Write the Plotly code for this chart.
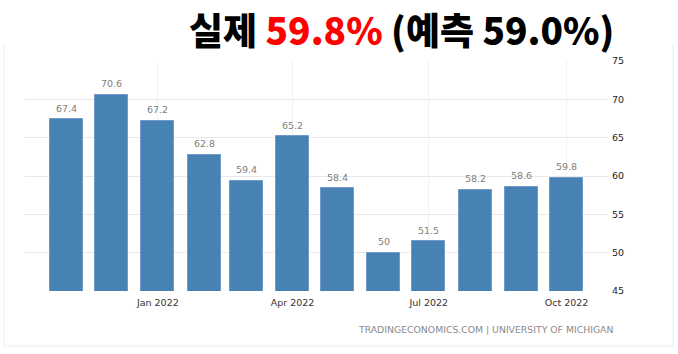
import plotly.graph_objects as go
import pandas as pd

months = ["2021-11-01", "2021-12-01", "2022-01-01", "2022-02-01", "2022-03-01", "2022-04-01",
          "2022-05-01", "2022-06-01", "2022-07-01", "2022-08-01", "2022-09-01", "2022-10-01"]
values = [67.4, 70.6, 67.2, 62.8, 59.4, 65.2, 58.4, 50, 51.5, 58.2, 58.6, 59.8]
value_labels = ["67.4", "70.6", "67.2", "62.8", "59.4", "65.2", "58.4", "50", "51.5", "58.2", "58.6", "59.8"]
x_ticks = ["2022-01-01", "2022-04-01", "2022-07-01", "2022-10-01"]
x_tick_labels = ["Jan 2022", "Apr 2022", "Jul 2022", "Oct 2022"]
y_ticks = [45, 50, 55, 60, 65, 70, 75]
title_html = '실제 <span style="color:#ff0000">59.8%</span> (예측 59.0%)'
source = "TRADINGECONOMICS.COM | UNIVERSITY OF MICHIGAN"

W, H = 678, 354
L, R, T, B = 25, 70, 61, 63
pw, ph = W - L - R, H - T - B

dates = pd.to_datetime(months)
day_ms = 86400000
x_start = dates[0] - pd.Timedelta(days=27.7)
x_end = dates[-1] + pd.Timedelta(days=27.7)

fig = go.Figure()
fig.add_trace(go.Bar(
    x=dates, y=values,
    width=22 * day_ms,
    marker=dict(color="#4682b4", line=dict(color="#6f9bc6", width=1)),
    hoverinfo="skip",
))

for d, v, t in zip(dates, values, value_labels):
    fig.add_annotation(x=d, y=v, text=t, showarrow=False, yanchor="middle", yshift=11,
                       font=dict(family="DejaVu Sans", size=9.5, color="#808080"))

def px_x(px):
    return (px - L) / pw

def px_y(py):
    return (H - B - py) / ph

fig.add_annotation(xref="paper", yref="paper", x=px_x(401), y=px_y(29), text=title_html,
                   showarrow=False, xanchor="center", yanchor="middle",
                   font=dict(family="Noto Sans CJK KR", size=37, color="#000000", weight=900))
fig.add_annotation(xref="paper", yref="paper", x=px_x(615), y=px_y(329), text=source,
                   showarrow=False, xanchor="right", yanchor="middle",
                   font=dict(family="DejaVu Sans", size=9.3, color="#8a8a8a"))

border = "#ececec"
for x0, y0, x1, y1 in [(4, 45, 4, 346), (673, 45, 673, 346), (4, 346, 673, 346)]:
    fig.add_shape(type="line", xref="paper", yref="paper",
                  x0=px_x(x0), y0=px_y(y0), x1=px_x(x1), y1=px_y(y1),
                  line=dict(color=border, width=1))

fig.update_layout(
    width=W, height=H,
    margin=dict(l=L, r=R, t=T, b=B),
    paper_bgcolor="white", plot_bgcolor="white",
    showlegend=False,
    bargap=0,
    xaxis=dict(type="date", range=[x_start, x_end], tickvals=pd.to_datetime(x_ticks),
               ticktext=x_tick_labels, showgrid=True, gridcolor="#f2f2f2", gridwidth=1,
               zeroline=False, showline=False, ticks="", ticklabelstandoff=4,
               tickfont=dict(family="DejaVu Sans", size=9.5, color="#333333")),
    yaxis=dict(range=[45, 75], side="right", tickvals=y_ticks, showgrid=True,
               gridcolor="#e8e8e8", gridwidth=1, zeroline=False, showline=False,
               ticks="", ticklabelstandoff=3,
               tickfont=dict(family="DejaVu Sans", size=9.5, color="#222222")),
)

fig.write_html("out.html")
